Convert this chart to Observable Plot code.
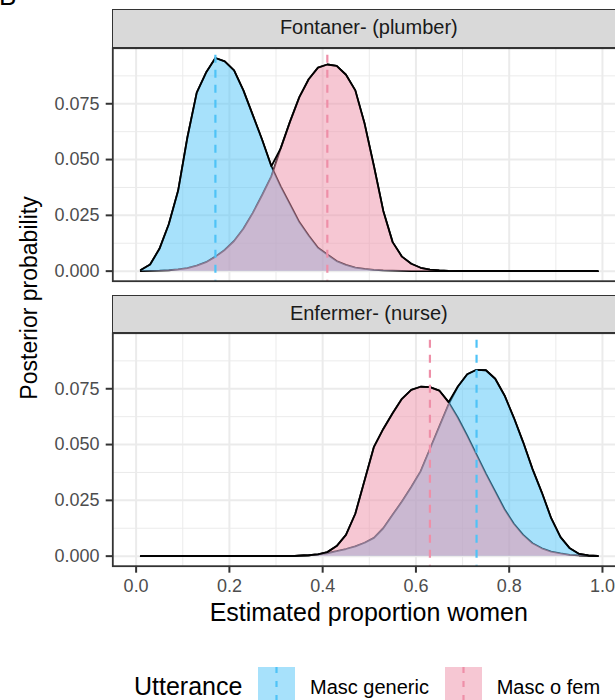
<!DOCTYPE html>
<html>
<head>
<meta charset="utf-8">
<script src="https://cdn.jsdelivr.net/npm/d3@7"></script>
<script src="https://cdn.jsdelivr.net/npm/@observablehq/plot@0.6"></script>
<style>
html, body { margin: 0; padding: 0; background: #fff; overflow: hidden; }
#root { position: relative; width: 615px; height: 700px; overflow: hidden;
  font-family: "Liberation Sans", Arial, Helvetica, sans-serif; color: #000; }
#root .abs { position: absolute; white-space: nowrap; }
#root svg text { fill: #4D4D4D; }
#root svg [aria-label="y-axis tick"], #root svg [aria-label="x-axis tick"],
#root svg [aria-label="y-axis"] line, #root svg [aria-label="x-axis"] line { stroke-width: 2; }
.strip { position: absolute; box-sizing: border-box; background: #D9D9D9;
  border: 1.8px solid #333333; text-align: center; font-size: 20px; color: #1A1A1A; }
</style>
</head>
<body>
<div id="root"></div>
<script>
// ---- data ----
const proportion = [0.01,0.03,0.05,0.07,0.09,0.11,0.13,0.15,0.17,0.19,
  0.21,0.23,0.25,0.27,0.29,0.31,0.33,0.35,0.37,0.39,
  0.41,0.43,0.45,0.47,0.49,0.51,0.53,0.55,0.57,0.59,
  0.61,0.63,0.65,0.67,0.69,0.71,0.73,0.75,0.77,0.79,
  0.81,0.83,0.85,0.87,0.89,0.91,0.93,0.95,0.97,0.99];
const occupations = ["Fontaner- (plumber)", "Enfermer- (nurse)"];
const utterances = ["Masc generic", "Masc o fem"];
const plumberGeneric = [0.0005,0.003,0.010,0.021,0.036,0.060,0.080,0.089,0.0955,0.094,
  0.090,0.081,0.070,0.059,0.047,0.038,0.030,0.022,0.016,0.0105,
  0.0075,0.0045,0.0028,0.0016,0.001,0.0006,0.0003,0.0002,0.0001,0,
  0,0,0,0,0,0,0,0,0,0, 0,0,0,0,0,0,0,0,0,0];
const plumberMascFem = [0,0.0001,0.0002,0.0004,0.0008,0.0014,0.0025,0.004,0.0065,0.0095,
  0.0135,0.019,0.026,0.034,0.0425,0.055,0.067,0.078,0.086,0.0912,
  0.0926,0.092,0.088,0.081,0.066,0.047,0.027,0.013,0.0065,0.0033,
  0.0015,0.0007,0.0003,0.0001,0,0,0,0,0,0, 0,0,0,0,0,0,0,0,0,0];
const nurseGeneric = [0,0,0,0,0,0,0,0,0,0,
  0,0,0,0,0,0,0,0.0002,0.0004,0.0008,
  0.0013,0.0022,0.0032,0.0044,0.006,0.0082,0.0125,0.0185,0.0245,0.031,
  0.038,0.048,0.058,0.068,0.076,0.0815,0.0835,0.0833,0.0795,0.072,
  0.062,0.051,0.039,0.0285,0.017,0.0085,0.0035,0.001,0.0003,0.0001];
const nurseMascFem = [0,0,0,0,0,0,0,0,0,0,
  0,0,0,0,0,0,0,0.0002,0.0004,0.0008,
  0.0018,0.0045,0.0095,0.019,0.034,0.049,0.057,0.064,0.0705,0.0745,
  0.0759,0.0757,0.0742,0.069,0.062,0.054,0.0455,0.037,0.029,0.021,
  0.0145,0.0095,0.0058,0.0035,0.002,0.0012,0.0006,0.0003,0.0001,0];
const meanGeneric = [0.17, 0.73];
const meanMascFem = [0.41, 0.63];
const xTicks = [0, 0.2, 0.4, 0.6, 0.8, 1.0];
const xMinor = [0.1, 0.3, 0.5, 0.7, 0.9];
const yTicks = [0, 0.025, 0.05, 0.075];
const yMinor = [0.0125, 0.0375, 0.0625, 0.0875];
const colors = ["#4FC3F7", "#EE8FA8"];

const FONT = '"Liberation Sans", Arial, Helvetica, sans-serif';
const root = document.getElementById("root");

function panel(gen, fem, mG, mF, o) {
  const rows = proportion.map((x, i) => ({x, gen: gen[i], fem: fem[i], top: Math.max(gen[i], fem[i])}));
  return Plot.plot({
    width: 615, height: o.height,
    marginTop: o.marginTop, marginBottom: o.marginBottom,
    marginLeft: 112.3, marginRight: -10.3,
    style: {fontFamily: FONT, fontSize: "18px", color: "#333333", background: "transparent"},
    x: {domain: [-0.05, 1.05], ticks: xTicks, tickFormat: d3.format(".1f"),
        tickSize: 7, tickPadding: 6, label: null, axis: o.showX ? "bottom" : null},
    y: {domain: [-0.0045, 0.0999], ticks: yTicks, tickFormat: d3.format(".3f"),
        tickSize: 6.6, tickPadding: 6.7, label: null},
    marks: [
      Plot.ruleX(xMinor, {stroke: "#EBEBEB", strokeWidth: 1}),
      Plot.ruleY(yMinor, {stroke: "#EBEBEB", strokeWidth: 1}),
      Plot.ruleX(xTicks, {stroke: "#EBEBEB", strokeWidth: 2}),
      Plot.ruleY(yTicks, {stroke: "#EBEBEB", strokeWidth: 2}),
      Plot.line(rows, {x: "x", y: "gen", stroke: "black", strokeWidth: 1.8}),
      Plot.line(rows, {x: "x", y: "fem", stroke: "black", strokeWidth: 1.8}),
      Plot.areaY(rows, {x: "x", y: "gen", fill: colors[0], fillOpacity: 0.5}),
      Plot.areaY(rows, {x: "x", y: "fem", fill: colors[1], fillOpacity: 0.5}),
      Plot.line(rows, {x: "x", y: "top", stroke: "black", strokeWidth: 1.8}),
      Plot.ruleX([mG], {stroke: colors[0], strokeWidth: 2.2, strokeDasharray: "8,7", insetTop: 7}),
      Plot.ruleX([mF], {stroke: colors[1], strokeWidth: 2.2, strokeDasharray: "8,7", insetTop: 7}),
      Plot.frame({stroke: "#333333", strokeWidth: 1.8})
    ]
  });
}

function place(el, top) {
  el.style.position = "absolute";
  el.style.left = "0px";
  el.style.top = top + "px";
  root.appendChild(el);
}

// panels
place(panel(plumberGeneric, plumberMascFem, meanGeneric[0], meanMascFem[0],
  {height: 282.7, marginTop: 47.7, marginBottom: 2, showX: false}), 0);
place(panel(nurseGeneric, nurseMascFem, meanGeneric[1], meanMascFem[1],
  {height: 319.7, marginTop: 50.7, marginBottom: 36, showX: true}), 282);

// strips
function strip(label, top, h) {
  const d = document.createElement("div");
  d.className = "strip";
  d.style.left = "112.3px"; d.style.top = top + "px";
  d.style.width = "513px"; d.style.height = h + "px";
  d.style.lineHeight = (h - 3.6) + "px";
  d.textContent = label;
  root.appendChild(d);
}
strip(occupations[0], 9, 38.7);
strip(occupations[1], 295, 37.7);

function text(str, css) {
  const d = document.createElement("div");
  d.className = "abs";
  Object.assign(d.style, css);
  d.textContent = str;
  root.appendChild(d);
  return d;
}
// panel tag
text("B", {left: "-1px", top: "-17.5px", fontSize: "26px", lineHeight: "26px"});
// axis titles
text("Posterior probability", {left: "29px", top: "298px", fontSize: "23px", lineHeight: "23px",
  transform: "translate(-50%,-50%) rotate(-90deg)"});
text("Estimated proportion women", {left: "112.3px", width: "513px", textAlign: "center",
  top: "600px", fontSize: "25px", lineHeight: "25px"});

// legend
text("Utterance", {left: "134px", top: "673.8px", fontSize: "25px", lineHeight: "25px"});
function key(left, color) {
  const ns = "http://www.w3.org/2000/svg";
  const s = document.createElementNS(ns, "svg");
  s.setAttribute("width", "37"); s.setAttribute("height", "37");
  s.style.position = "absolute"; s.style.left = left + "px"; s.style.top = "666.7px";
  const r = document.createElementNS(ns, "rect");
  r.setAttribute("width", "37"); r.setAttribute("height", "37");
  r.setAttribute("fill", color); r.setAttribute("fill-opacity", "0.5");
  s.appendChild(r);
  const l = document.createElementNS(ns, "line");
  l.setAttribute("x1", "18.5"); l.setAttribute("x2", "18.5");
  l.setAttribute("y1", "0"); l.setAttribute("y2", "37");
  l.setAttribute("stroke", color); l.setAttribute("stroke-width", "2.2");
  l.setAttribute("stroke-dasharray", "6,8");
  s.appendChild(l);
  root.appendChild(s);
}
key(258.3, colors[0]);
text(utterances[0], {left: "310px", top: "677.4px", fontSize: "20px", lineHeight: "20px"});
key(445.3, colors[1]);
text(utterances[1], {left: "496.7px", top: "677.4px", fontSize: "20px", lineHeight: "20px"});
</script>
</body>
</html>
